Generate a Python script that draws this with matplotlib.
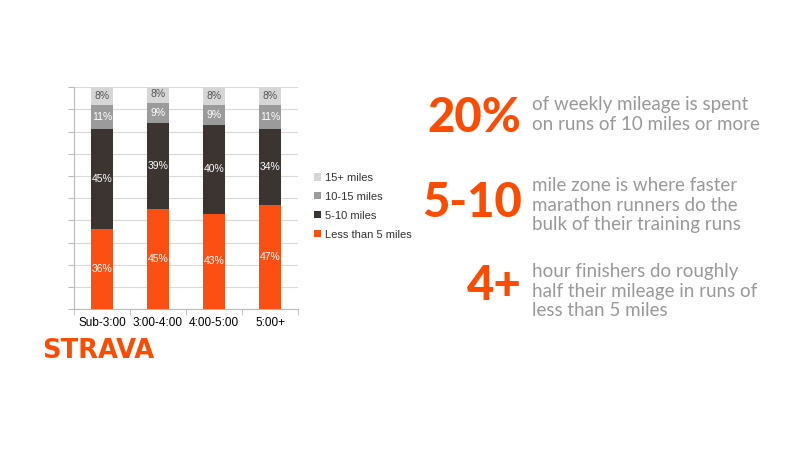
import numpy as np
import matplotlib.pyplot as plt

# Share of weekly mileage by run length, per marathon finish time
categories = ['Sub-3:00', '3:00-4:00', '4:00-5:00', '5:00+']
less_than_5 = [36, 45, 43, 47]
five_to_10 = [45, 39, 40, 34]
ten_to_15 = [11, 9, 9, 11]
fifteen_plus = [8, 8, 8, 8]

series = [
    ('Less than 5 miles', less_than_5, '#fb4f14', '#ffffff'),
    ('5-10 miles', five_to_10, '#3b3431', '#ffffff'),
    ('10-15 miles', ten_to_15, '#9b9b9b', '#ffffff'),
    ('15+ miles', fifteen_plus, '#d6d6d6', '#555555'),
]

orange = '#fc4c02'
grey_text = '#999999'
arial = 'Liberation Sans'

fig = plt.figure(figsize=(8, 4.5), dpi=100)
ax = fig.add_axes([0.0925, 0.313, 0.28, 0.493])

x = np.arange(len(categories))
bottom = np.zeros(len(categories))
handles = []
for name, vals, color, tcolor in series:
    vals = np.array(vals)
    b = ax.bar(x, vals, bottom=bottom, width=0.4, color=color, label=name, zorder=3)
    handles.append(b)
    for xi, v, bt in zip(x, vals, bottom):
        ax.text(xi, bt + v / 2, f'{v}%', ha='center', va='center', fontsize=7.5,
                color=tcolor, family=arial, zorder=4)
    bottom += vals

ax.set_xlim(-0.5, len(categories) - 0.5)
ax.set_ylim(0, 100)
ax.set_yticks(np.arange(0, 101, 10))
ax.set_yticklabels([])
ax.yaxis.grid(True, color='#d9d9d9', linewidth=0.8, zorder=0)
ax.tick_params(axis='y', length=4, color='#bbbbbb', direction='out')
ax.set_xticks(x)
ax.set_xticklabels(categories, fontsize=8.5, family=arial)
ax.set_xticks(np.arange(-0.5, len(categories), 1), minor=True)
ax.tick_params(axis='x', which='major', length=0, pad=6)
ax.tick_params(axis='x', which='minor', length=4, color='#bbbbbb')
for s in ['top', 'right']:
    ax.spines[s].set_visible(False)
ax.spines['left'].set_color('#bbbbbb')
ax.spines['bottom'].set_color('#bbbbbb')

leg = fig.legend(handles[::-1], [h.get_label() for h in handles[::-1]],
                 loc='upper left', bbox_to_anchor=(0.38, 0.638), frameon=False,
                 prop={'family': arial, 'size': 8}, handlelength=0.6,
                 handleheight=0.6, handletextpad=0.35, labelspacing=0.8)
for t in leg.get_texts():
    t.set_color('#333333')

# Strava wordmark
fig.text(0.053, 0.219, 'STRAVA', color=orange, fontsize=18.5, fontweight='bold',
         family='DejaVu Sans', ha='left', va='center')

# Call-outs on the right: (big figure, its y, caption, caption y)
callouts = [
    ('20%', 0.738, 'of weekly mileage is spent\non runs of 10 miles or more', 0.745),
    ('5-10', 0.549, 'mile zone is where faster\nmarathon runners do the\nbulk of their training runs', 0.544),
    ('4+', 0.364, 'hour finishers do roughly\nhalf their mileage in runs of\nless than 5 miles', 0.353),
]
for big, yb, small, ys in callouts:
    fig.text(0.652, yb, big, color=orange, fontsize=34, fontweight='black',
             family='Lato', ha='right', va='center')
    fig.text(0.665, ys, small, color=grey_text, fontsize=13.5,
             family='Lato', ha='left', va='center', linespacing=1.19)

fig.savefig('out.png', dpi=100)
